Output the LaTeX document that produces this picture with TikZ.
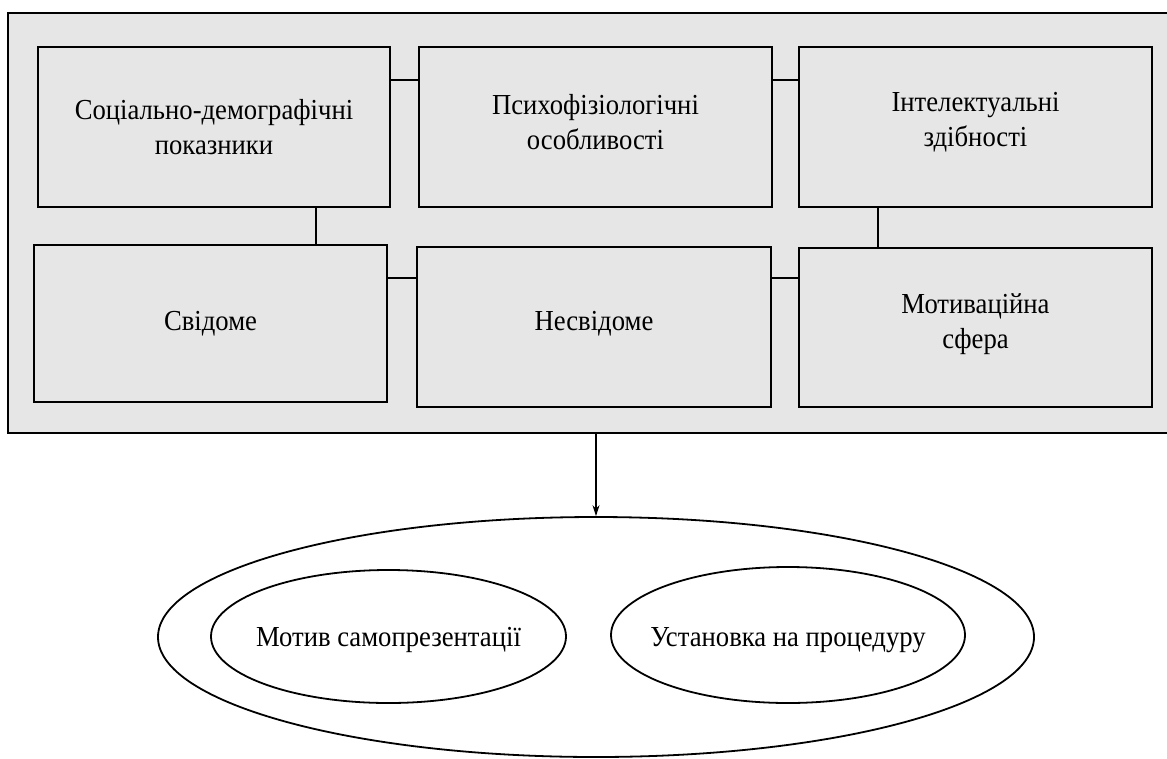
\documentclass[tikz,border=0pt]{standalone}
\usepackage{fontspec}
\setmainfont[FakeStretch=0.92]{Liberation Serif}
\usetikzlibrary{shapes.geometric,arrows.meta}
\definecolor{panel}{HTML}{E6E6E6}
\tikzset{
  box/.style={draw=black, line width=2pt, fill=panel, rectangle, inner sep=0pt},
  frame/.style={draw=black, line width=2pt, fill=panel, rectangle, inner sep=0pt},
  oval/.style={draw=black, line width=1.8pt, ellipse, inner sep=0pt},
  lbl/.style={font=\fontsize{29}{35}\selectfont, inner sep=0pt, align=center},
  link/.style={draw=black, line width=1.6pt},
  arr/.style={draw=black, line width=1.1pt, -{Stealth[length=11pt,width=7pt]}}
}
\begin{document}
\begin{tikzpicture}[x=1pt,y=-1pt]
\useasboundingbox (0,0) rectangle (1167,758);
\clip (0,0) rectangle (1167,758);
\fill[white] (0,0) rectangle (1167,758);
% outer panel
\node[frame, minimum width=1162pt, minimum height=420pt] (panel) at (589,223) {};
% boxes
\node[box, minimum width=352pt, minimum height=160pt] (b1) at (214,127) {};
\node[box, minimum width=353pt, minimum height=160pt] (b2) at (595.5,127) {};
\node[box, minimum width=353pt, minimum height=160pt] (b3) at (975.5,127) {};
\node[box, minimum width=353pt, minimum height=157pt] (b4) at (210.5,323.5) {};
\node[box, minimum width=354pt, minimum height=160pt] (b5) at (594,327) {};
\node[box, minimum width=353pt, minimum height=159pt] (b6) at (975.5,327.5) {};
% box texts
\node[lbl] (t1) at (b1.center) {Соціально-демографічні\\показники};
\node[lbl] (t2) at ([yshift=5pt]b2.center) {Психофізіологічні\\особливості};
\node[lbl] (t3) at ([yshift=5pt]b3.center) {Інтелектуальні\\здібності};
\node[lbl] (t4) at (b4.center) {Свідоме};
\node[lbl] (t5) at ([yshift=3pt]b5.center) {Несвідоме};
\node[lbl] (t6) at ([yshift=3pt]b6.center) {Мотиваційна\\сфера};
% connectors
\draw[link] ([yshift=-34pt]b1.north east) -- ([yshift=-34pt]b2.north west);
\draw[link] ([yshift=-34pt]b2.north east) -- ([yshift=-34pt]b3.north west);
\draw[link] ([xshift=279pt]b1.south west) -- ([xshift=283pt]b4.north west);
\draw[link] ([xshift=80pt]b3.south west) -- ([xshift=80pt]b6.north west);
\draw[link] ([yshift=-34pt]b4.north east) -- ([yshift=-32pt]b5.north west);
\draw[link] ([yshift=-32pt]b5.north east) -- ([yshift=-31pt]b6.north west);
% ellipses
\node[oval, minimum width=876pt, minimum height=240pt] (outer) at (596,637) {};
\node[oval, minimum width=355pt, minimum height=133pt] (e1) at (388.5,636.5) {};
\node[oval, minimum width=354pt, minimum height=136pt] (e2) at (788,635) {};
\node[lbl, anchor=base] (m1) at ([yshift=-9.5pt]e1.center) {Мотив самопрезентації};
\node[lbl, anchor=base] (m2) at ([yshift=-11pt]e2.center) {Установка на процедуру};
% arrow
\draw[arr] (panel.south -| outer.north) -- (outer.north);
\end{tikzpicture}
\end{document}
